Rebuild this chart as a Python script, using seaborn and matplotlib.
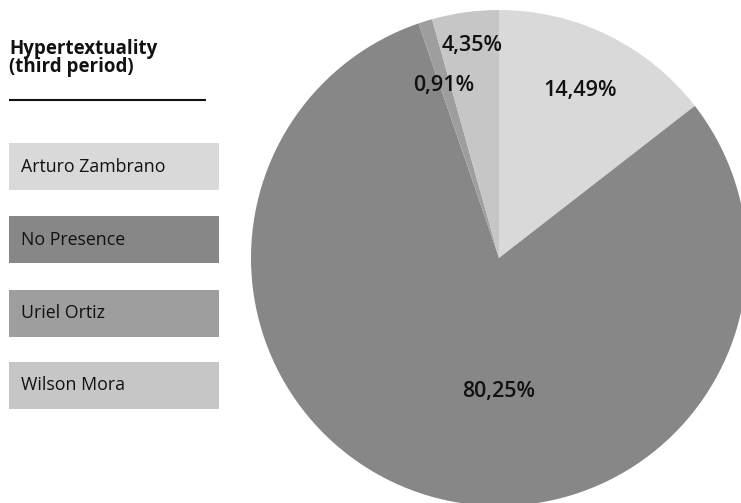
import matplotlib
matplotlib.use("Agg")
import matplotlib.pyplot as plt
from matplotlib.patches import Rectangle
import seaborn as sns

# Share of hypertextual references per candidate, third period
categories = ["Arturo Zambrano", "No Presence", "Uriel Ortiz", "Wilson Mora"]
shares = [14.49, 80.25, 0.91, 4.35]
labels = ["14,49%", "80,25%", "0,91%", "4,35%"]
colors = ["#d9d9d9", "#878787", "#9e9e9e", "#c6c6c6"]
title = "Hypertextuality\n(third period)"

sns.set_theme(style="white")
plt.rcParams["font.family"] = ["Open Sans", "DejaVu Sans"]

W, H = 741, 503
fig = plt.figure(figsize=(W / 100, H / 100), dpi=100)
ax = fig.add_axes([0, 0, 1, 1])

cx, cy, r = 499, H - 258, 248
wedges, _ = ax.pie(shares, colors=colors, startangle=90, counterclock=False,
                   center=(cx, cy), radius=r,
                   wedgeprops=dict(linewidth=0))
ax.set_xlim(0, W)
ax.set_ylim(0, H)
ax.set_aspect("equal")
ax.axis("off")

# Percentage labels, placed by hand inside each slice
label_pos = [(580, 90), (499, 391), (444, 85), (472, 45)]
for (px, py), txt in zip(label_pos, labels):
    ax.text(px, H - py, txt, ha="center", va="center", fontsize=15.5,
            fontweight="semibold", color="#111111")

# Title and rule
ax.text(9, H - 58, title, ha="left", va="center", fontsize=13.5,
        fontweight="bold", color="#111111", linespacing=0.85)
ax.plot([9, 206], [H - 100, H - 100], color="#111111", lw=1.5,
        solid_capstyle="butt")

# Legend boxes
box_tops = [143, 216, 290, 362]
for top, name, col in zip(box_tops, categories, colors):
    ax.add_patch(Rectangle((9, H - top - 47), 210, 47, facecolor=col,
                           edgecolor="none"))
    ax.text(21, H - top - 23.5, name, ha="left", va="center",
            fontsize=12.8, color="#111111")

fig.savefig("out.png", dpi=100)
